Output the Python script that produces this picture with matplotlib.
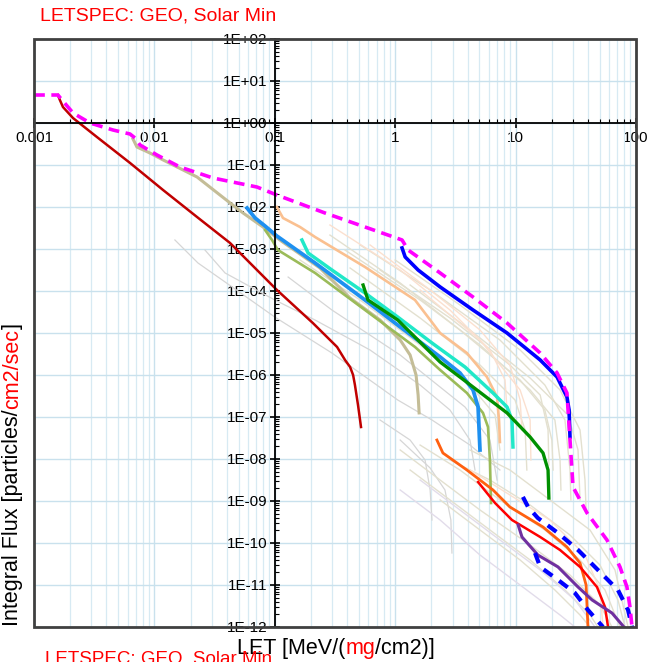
import matplotlib
matplotlib.use("Agg")
import matplotlib.pyplot as plt
import matplotlib.ticker as mticker
import matplotlib.patches as mpatches
import numpy as np

plt.rcParams['font.family'] = ['Liberation Sans', 'DejaVu Sans']

# ---- data (LET in MeV/(mg/cm2), flux in particles/cm2/sec) ----
# total envelope (magenta dashed)
total_let = [0.001, 0.00158, 0.00171, 0.00211, 0.00292, 0.00453, 0.00627, 0.0069, 0.00759,
             0.0105, 0.0163, 0.0307, 0.0711, 0.104, 0.261, 1.14, 1.28, 2.36, 4.43, 8.49,
             16.0, 22.1, 26.7, 28.3, 30.0, 39.2, 57.4, 73.6, 84.1, 89.1, 92.7]
total_flux = [4.64, 4.64, 3.53, 1.73, 1.0, 0.681, 0.547, 0.44, 0.30,
              0.173, 0.0895, 0.049, 0.0299, 0.0193, 0.0072, 0.00164, 9.46e-4, 2.69e-4, 7.19e-5, 1.73e-5,
              3.34e-6, 1.12e-6, 3.73e-7, 2.83e-8, 2.15e-9, 5.18e-10, 1.18e-10, 2.69e-11, 8.96e-12, 2.99e-12, 1e-12]

# dark red
h_let = [0.00158, 0.00164, 0.00174, 0.00211, 0.00333, 0.00627, 0.0118, 0.0226, 0.0425,
         0.104, 0.207, 0.329, 0.383, 0.422, 0.447, 0.463, 0.491, 0.52]
h_flux = [4.64, 3.53, 2.40, 1.31, 0.464, 0.112, 0.0254, 0.00578, 0.00139,
          1.06e-4, 1.73e-5, 4.65e-6, 2.28e-6, 1.55e-6, 1e-6, 5.78e-7, 1.93e-7, 5.78e-8]

# tan
he_let = [0.00664, 0.00716, 0.00918, 0.0118, 0.0226, 0.0425, 0.0545, 0.0798, 0.110,
          0.237, 0.422, 0.748, 1.10, 1.33, 1.49, 1.55, 1.58]
he_flux = [0.416, 0.268, 0.193, 0.132, 0.0518, 0.0125, 0.0072, 0.00334, 0.00164,
           3.53e-4, 6.81e-5, 2.04e-5, 6.81e-6, 2.99e-6, 1e-6, 3.34e-7, 1.25e-7]

# sky blue
c_let = [0.0588, 0.0686, 0.083, 0.104, 0.216, 0.561, 1.10, 2.36, 3.45, 4.43, 4.88, 5.06]
c_flux = [0.00946, 0.00547, 0.00353, 0.00204, 4.65e-4, 6.11e-5, 1.39e-5, 2.69e-6,
          1.12e-6, 4.4e-7, 1.73e-7, 1.64e-8]

# olive
o_let = [0.083, 0.0948, 0.106, 0.216, 0.561, 1.46, 2.36, 3.94, 5.36, 5.90, 6.12, 6.25]
o_flux = [0.00283, 0.00164, 9.46e-4, 2.69e-4, 3.53e-5, 4.65e-6, 1.32e-6, 3.73e-7,
          1.25e-7, 5.78e-8, 9.46e-9, 8.96e-10]

# peach
n_let = [0.104, 0.117, 0.162, 0.216, 0.561, 1.46, 2.36, 3.94, 5.78, 7.01, 7.28, 7.41]
n_flux = [0.01, 0.00547, 0.00334, 0.00193, 3.73e-4, 6.11e-5, 1e-5, 3.34e-6, 8.96e-7,
          2.99e-7, 8.49e-8, 2.54e-8]

# turquoise
ne_let = [0.168, 0.189, 0.298, 0.561, 1.05, 2.02, 3.80, 6.49, 8.49, 9.33, 9.51]
ne_flux = [0.00164, 8.03e-4, 3.16e-4, 8.96e-5, 2.40e-5, 5.78e-6, 1.55e-6, 3.73e-7,
           1.73e-7, 8.49e-8, 1.93e-8]

# green
si_let = [0.541, 0.594, 1.05, 2.36, 4.43, 8.49, 13.2, 16.9, 18.6, 18.9]
si_flux = [1.39e-4, 6.11e-5, 2.04e-5, 2.04e-6, 5.18e-7, 1.25e-7, 3.34e-8, 1.39e-8,
           5.47e-9, 1.18e-9]

# dark blue
fe_let = [1.14, 1.21, 1.55, 2.36, 4.43, 8.49, 16.0, 22.1, 26.7, 27.8, 28.3]
fe_flux = [0.00106, 6.46e-4, 3.16e-4, 1.25e-4, 3.53e-5, 1e-5, 2.28e-6, 8.96e-7,
           2.99e-7, 1.47e-7, 3.34e-8]

# orange
a_let = [2.22, 2.49, 3.94, 6.49, 8.97, 16.9, 26.7, 34.3, 38.5, 39.9]
a_flux = [2.83e-8, 1.39e-8, 5.47e-9, 1.83e-9, 7.19e-10, 2.40e-10, 8.03e-11, 3.34e-11, 1e-11, 1e-12]

# red
b_let = [4.88, 5.78, 6.75, 9.33, 16.0, 23.4, 34.3, 47.4, 55.3, 58.6]
b_flux = [2.83e-9, 1.55e-9, 8.96e-10, 3.53e-10, 1.39e-10, 6.81e-11, 2.69e-11, 8.96e-12, 2.99e-12, 1e-12]

# purple
u_let = [10.5, 11.3, 15.3, 22.5, 33.0, 43.2, 63.2, 79.4]
u_flux = [2.69e-10, 1.39e-10, 5.18e-11, 2.69e-11, 8.96e-12, 4.4e-12, 2.15e-12, 1e-12]

# blue dashed pair
hi_let = [11.5, 12.7, 15.3, 22.5, 33.0, 48.3, 70.8, 85.9, 92.7]
hi_flux = [1.25e-9, 7.19e-10, 3.94e-10, 1.73e-10, 6.81e-11, 2.28e-11, 7.6e-12, 2.54e-12, 1e-12]
lo_let = [14.5, 16.0, 22.5, 31.1, 39.9, 53.2]
lo_flux = [5.78e-11, 2.69e-11, 1.32e-11, 6.46e-12, 2.54e-12, 1e-12]

# faint grey lines
g1_let = [0.0148, 0.023, 0.0442, 0.1, 0.298, 1.05, 2.02, 4.18, 7.41]
g1_flux = [1.64e-3, 4.65e-4, 1.25e-4, 2.40e-5, 3.34e-6, 2.54e-7, 8.49e-8, 2.15e-8, 5.47e-9]
g2_let = [0.0263, 0.0386, 0.1, 0.216, 0.618, 1.61, 2.85, 4.18, 4.60]
g2_flux = [9.46e-4, 2.69e-4, 6.11e-5, 2.04e-5, 3.94e-6, 5.78e-7, 1.47e-7, 2.83e-8, 5.47e-9]
g3_let = [0.129, 0.298, 1.10, 3.80, 6.12, 7.01]
g3_flux = [2.15e-4, 3.53e-5, 2.99e-6, 1.73e-7, 2.83e-8, 3.16e-9]
g4_let = [0.748, 1.33, 1.77, 1.95, 2.02]
g4_flux = [8.49e-8, 2.83e-8, 9.46e-9, 1.83e-9, 3.53e-10]
g5_let = [1.10, 1.95, 2.59, 2.90, 2.96]
g5_flux = [2.83e-8, 6.11e-9, 1.83e-9, 3.53e-10, 5.78e-11]

# faint beige lines (upper bundle)
u1_let = [0.287, 1.10, 3.45, 10.9, 17.5, 20.0, 20.5]
u1_flux = [2.15e-3, 1.55e-4, 1.18e-5, 7.6e-7, 1.47e-7, 2.83e-8, 5.47e-9]
u2_let = [0.383, 1.61, 5.06, 13.2, 21.2, 23.4, 23.8]
u2_flux = [9.46e-4, 6.11e-5, 5.18e-6, 4.4e-7, 8.49e-8, 9.46e-9, 1.83e-9]
u3_let = [0.511, 1.95, 7.41, 17.5, 25.7, 28.3, 28.8]
u3_flux = [1.25e-3, 1.06e-4, 6.81e-6, 5.78e-7, 8.49e-8, 5.47e-9, 1.06e-9]
u4_let = [0.748, 2.85, 8.97, 16.0, 18.6, 18.9]
u4_flux = [3.16e-4, 2.28e-5, 1.73e-6, 3.34e-7, 4.9e-8, 7.19e-9]
u5_let = [0.422, 1.61, 5.06, 9.89, 12.0, 12.4]
u5_flux = [3.53e-4, 2.28e-5, 1.73e-6, 2.54e-7, 4.9e-8, 5.47e-9]
u6_let = [1.0, 3.45, 10.9, 23.4, 34.3, 37.7, 38.5]
u6_flux = [5.47e-4, 4.65e-5, 3.94e-6, 4.4e-7, 4.9e-8, 3.16e-9, 6.11e-10]
u7_let = [0.162, 0.511, 1.61, 4.18, 6.75, 7.41]
u7_flux = [5.47e-4, 6.11e-5, 5.18e-6, 5.78e-7, 1.12e-7, 1.64e-8]
u8_let = [1.33, 4.18, 13.2, 27.2, 33.0, 34.3]
u8_flux = [1.39e-4, 1.18e-5, 8.49e-7, 1.12e-7, 1.64e-8, 1.06e-9]

# faint peach lines
p1_let = [0.287, 1.10, 2.85, 6.12, 8.17, 8.49]
p1_flux = [3.73e-3, 3.16e-4, 3.53e-5, 3.94e-6, 7.6e-7, 1.47e-7]
p2_let = [0.618, 1.95, 5.06, 8.97, 10.9, 11.3]
p2_flux = [1.25e-3, 1.06e-4, 1.18e-5, 1.73e-6, 2.54e-7, 4.9e-8]
p3_let = [1.61, 5.06, 10.9, 13.2, 13.4]
p3_flux = [1.06e-4, 6.81e-6, 4.4e-7, 8.49e-8, 9.46e-9]
q1_let = [4.18, 8.97, 19.3, 37.7, 50.2, 53.2]
q1_flux = [5.47e-9, 1.39e-9, 3.53e-10, 5.18e-11, 7.6e-12, 1e-12]

# faint beige / lavender lines (lower bundle)
l1_let = [1.10, 2.36, 5.06, 13.2, 28.3, 50.2, 63.2]
l1_flux = [1.64e-8, 3.16e-9, 6.11e-10, 8.96e-11, 1.73e-11, 3.34e-12, 1e-12]
l2_let = [1.61, 3.45, 7.41, 17.5, 34.3, 55.3, 73.6]
l2_flux = [2.15e-8, 5.47e-9, 1.06e-9, 2.04e-10, 3.94e-11, 7.6e-12, 1e-12]
l3_let = [1.33, 2.85, 6.12, 13.2, 25.7, 41.5, 48.3]
l3_flux = [5.47e-9, 1.06e-9, 2.04e-10, 3.94e-11, 7.6e-12, 1.93e-12, 1e-12]
l4_let = [2.36, 5.06, 10.9, 21.2, 34.3, 41.5]
l4_flux = [1.06e-9, 2.04e-10, 3.94e-11, 7.6e-12, 1.93e-12, 1e-12]
l5_let = [2.85, 6.12, 13.2, 28.3, 50.2, 70.8, 81.1]
l5_flux = [9.46e-9, 3.16e-9, 8.03e-10, 1.55e-10, 2.99e-11, 4.4e-12, 1e-12]
l6_let = [4.18, 8.97, 19.3, 41.5, 66.9, 85.9]
l6_flux = [1.64e-8, 5.47e-9, 1.06e-9, 2.04e-10, 2.28e-11, 1e-12]
v1_let = [1.61, 3.45, 7.41, 16.0, 31.1, 45.7]
v1_flux = [3.16e-9, 6.11e-10, 1.18e-10, 2.28e-11, 4.4e-12, 1e-12]
v2_let = [1.10, 2.36, 5.06, 10.9, 23.4, 31.1]
v2_flux = [1.83e-9, 3.53e-10, 5.18e-11, 1e-11, 1.93e-12, 1e-12]

title_text = "LETSPEC: GEO, Solar Min"

# ---- figure ----
fig = plt.figure(figsize=(6.5, 6.62), dpi=100)
ax = fig.add_axes([34 / 650, 1 - 627 / 662, 602 / 650, 588 / 662])
ax.set_xscale('log')
ax.set_yscale('log')
ax.set_xlim(0.001, 100)
ax.set_ylim(1e-12, 100)

# grid: light blue, minor only on x
ax.grid(which='major', color='#c9e1ed', lw=1.0, zorder=0)
ax.xaxis.grid(which='minor', color='#d7eaf3', lw=0.9)
ax.set_axisbelow(True)

# faint background spectra
for lx, fy in [(g1_let, g1_flux), (g2_let, g2_flux), (g3_let, g3_flux),
               (g4_let, g4_flux), (g5_let, g5_flux)]:
    ax.plot(lx, fy, color='#d6d6d6', lw=0.9, zorder=2)
for lx, fy in [(u1_let, u1_flux), (u2_let, u2_flux), (u3_let, u3_flux), (u4_let, u4_flux),
               (u5_let, u5_flux), (u6_let, u6_flux), (u7_let, u7_flux), (u8_let, u8_flux),
               (l1_let, l1_flux), (l2_let, l2_flux), (l3_let, l3_flux), (l4_let, l4_flux),
               (l5_let, l5_flux), (l6_let, l6_flux)]:
    ax.plot(lx, fy, color='#e3e0cf', lw=1.0, zorder=2)
for lx, fy in [(p1_let, p1_flux), (p2_let, p2_flux), (p3_let, p3_flux), (q1_let, q1_flux)]:
    ax.plot(lx, fy, color='#fbe0cf', lw=1.0, zorder=2)
for lx, fy in [(v1_let, v1_flux), (v2_let, v2_flux)]:
    ax.plot(lx, fy, color='#e2dcea', lw=1.0, zorder=2)

# main spectra
ax.plot(h_let, h_flux, color='#c00000', lw=1.8, zorder=4)
ax.plot(he_let, he_flux, color='#c4bd97', lw=2.2, zorder=4)
ax.plot(o_let, o_flux, color='#9bbb59', lw=1.9, zorder=4)
ax.plot(n_let, n_flux, color='#fac090', lw=1.9, zorder=4)
ax.plot(c_let, c_flux, color='#1e90f0', lw=2.7, zorder=4)
ax.plot(ne_let, ne_flux, color='#20e8c8', lw=2.5, zorder=4)
ax.plot(si_let, si_flux, color='#009000', lw=2.4, zorder=5)
ax.plot(fe_let, fe_flux, color='#0000ff', lw=2.6, zorder=5)
ax.plot(a_let, a_flux, color='#ff6010', lw=2.0, zorder=5)
ax.plot(b_let, b_flux, color='#ff0000', lw=1.8, zorder=5)
ax.plot(u_let, u_flux, color='#7030a0', lw=2.2, zorder=5)
ax.plot(hi_let, hi_flux, color='#0000ff', lw=3.0, dashes=(2.6, 2.0), zorder=6)
ax.plot(lo_let, lo_flux, color='#0000ff', lw=3.0, dashes=(2.6, 2.0), zorder=6)
ax.plot(total_let, total_flux, color='#ff00ff', lw=2.6, dashes=(3.0, 1.8), zorder=7)

# axes crossing at LET=0.1 and flux=1
ax.spines['left'].set_position(('data', 0.1))
ax.spines['bottom'].set_position(('data', 1))
for s in ['left', 'bottom']:
    ax.spines[s].set_color('black')
    ax.spines[s].set_linewidth(1.3)
    ax.spines[s].set_zorder(8)
ax.spines['right'].set_visible(False)
ax.spines['top'].set_visible(False)
ax.add_patch(mpatches.Rectangle((0, 0), 1, 1, transform=ax.transAxes, fill=False,
                                edgecolor='#404040', lw=2, clip_on=False, zorder=9))

ax.yaxis.set_ticks_position('left')
ax.xaxis.set_ticks_position('bottom')
ax.xaxis.set_major_locator(mticker.LogLocator(base=10, numticks=20))
ax.yaxis.set_major_locator(mticker.LogLocator(base=10, numticks=20))
ax.xaxis.set_minor_locator(mticker.LogLocator(base=10, subs=np.arange(2, 10), numticks=20))
ax.yaxis.set_minor_locator(mticker.LogLocator(base=10, subs=np.arange(2, 10), numticks=20))
ax.xaxis.set_minor_formatter(mticker.NullFormatter())
ax.yaxis.set_minor_formatter(mticker.NullFormatter())
ax.xaxis.set_major_formatter(mticker.FuncFormatter(lambda v, _: f"{v:g}"))
ax.yaxis.set_major_formatter(mticker.FuncFormatter(
    lambda v, _: f"1E{int(round(np.log10(v))):+03d}"))
ax.tick_params(which='major', direction='inout', length=7, width=1.2, labelsize=11, pad=2)
ax.tick_params(which='minor', direction='in', length=3, width=0.8)

# titles and labels
fig.text(40 / 650, 1 - 16 / 662, title_text, color='red', fontsize=14, va='center')
fig.text(45 / 650, 1 - 650 / 662, title_text, color='red', fontsize=13.5, va='top')

t = ax.annotate("LET [MeV/(", xy=(237 / 650, 1 - 654 / 662), xycoords='figure fraction',
                fontsize=15.5, va='baseline', ha='left', annotation_clip=False)
t = ax.annotate("mg", xy=(1, 0), xycoords=t, fontsize=15.5, color='red',
                va='bottom', ha='left', annotation_clip=False)
t = ax.annotate("/cm2)]", xy=(1, 0), xycoords=t, fontsize=15.5,
                va='bottom', ha='left', annotation_clip=False)

t = ax.annotate("Integral Flux [particles/", xy=(2 / 650, 1 - 626 / 662),
                xycoords='figure fraction', fontsize=15.5, rotation=90,
                va='bottom', ha='left', annotation_clip=False)
t = ax.annotate("cm2/sec", xy=(0, 1), xycoords=t, fontsize=15.5, color='red', rotation=90,
                va='bottom', ha='left', annotation_clip=False)
t = ax.annotate("]", xy=(0, 1), xycoords=t, fontsize=15.5, rotation=90,
                va='bottom', ha='left', annotation_clip=False)

plt.savefig("out.png", dpi=100)
